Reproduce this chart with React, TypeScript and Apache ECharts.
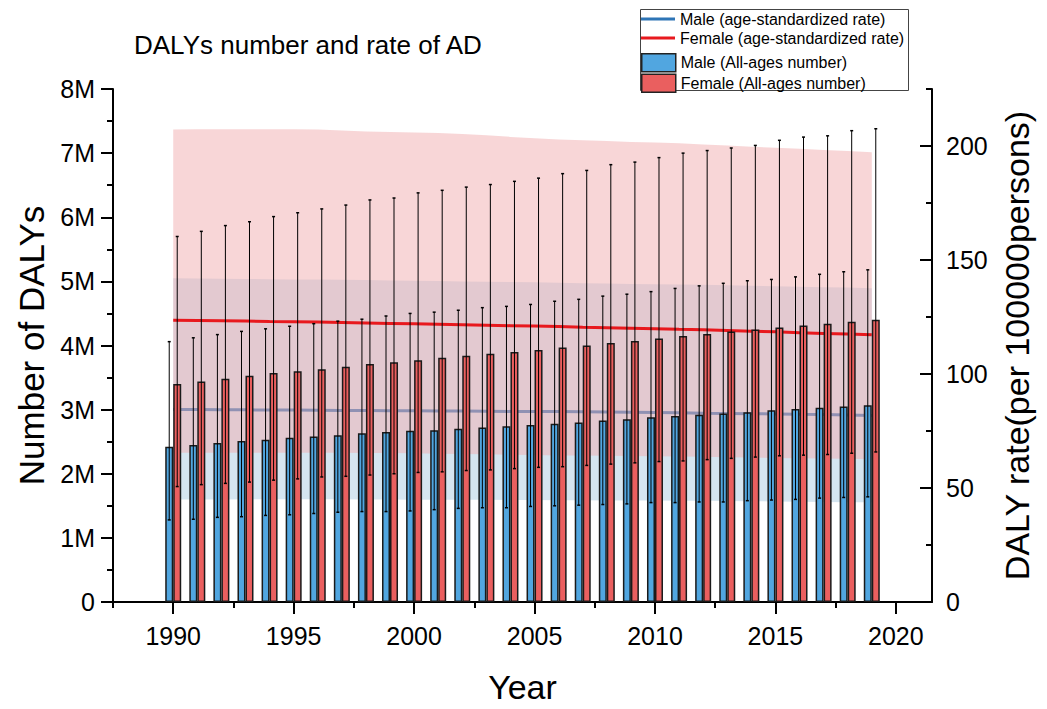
import React, { useEffect, useRef } from "react";
import * as echarts from "echarts";

const years = [1990, 1991, 1992, 1993, 1994, 1995, 1996, 1997, 1998, 1999, 2000, 2001, 2002, 2003, 2004, 2005, 2006, 2007, 2008, 2009, 2010, 2011, 2012, 2013, 2014, 2015, 2016, 2017, 2018, 2019];

// All-ages DALY numbers (millions)
const maleNumber = [2.42, 2.45, 2.48, 2.51, 2.53, 2.56, 2.58, 2.60, 2.63, 2.65, 2.67, 2.68, 2.70, 2.72, 2.74, 2.76, 2.78, 2.80, 2.83, 2.85, 2.88, 2.90, 2.92, 2.94, 2.96, 2.99, 3.01, 3.03, 3.05, 3.07];
const femaleNumber = [3.40, 3.44, 3.48, 3.53, 3.57, 3.60, 3.63, 3.67, 3.71, 3.74, 3.77, 3.81, 3.84, 3.87, 3.90, 3.93, 3.97, 4.00, 4.04, 4.07, 4.11, 4.15, 4.18, 4.22, 4.25, 4.28, 4.31, 4.34, 4.37, 4.40];
const maleUpper = [4.06, 4.12, 4.17, 4.22, 4.26, 4.30, 4.34, 4.38, 4.41, 4.46, 4.50, 4.52, 4.55, 4.59, 4.61, 4.64, 4.69, 4.72, 4.77, 4.80, 4.84, 4.89, 4.93, 4.97, 5.01, 5.03, 5.07, 5.11, 5.15, 5.18];
const maleLower = [1.28, 1.29, 1.32, 1.33, 1.35, 1.36, 1.38, 1.40, 1.41, 1.41, 1.42, 1.44, 1.46, 1.47, 1.47, 1.49, 1.50, 1.51, 1.52, 1.53, 1.55, 1.55, 1.56, 1.56, 1.58, 1.59, 1.60, 1.62, 1.63, 1.64];
const femaleUpper = [5.70, 5.78, 5.87, 5.93, 6.01, 6.07, 6.13, 6.19, 6.27, 6.30, 6.38, 6.42, 6.47, 6.51, 6.56, 6.61, 6.68, 6.73, 6.82, 6.86, 6.93, 7.00, 7.04, 7.08, 7.12, 7.20, 7.25, 7.27, 7.35, 7.38];
const femaleLower = [1.80, 1.83, 1.85, 1.87, 1.90, 1.92, 1.95, 1.96, 1.98, 2.00, 2.02, 2.03, 2.05, 2.06, 2.08, 2.10, 2.11, 2.13, 2.15, 2.17, 2.19, 2.20, 2.22, 2.24, 2.26, 2.28, 2.29, 2.30, 2.32, 2.34];

// Age-standardized DALY rates (per 100000 persons)
const maleRate = [84.4, 84.4, 84.3, 84.3, 84.2, 84.2, 84.1, 84.0, 84.0, 83.9, 83.9, 83.8, 83.8, 83.7, 83.6, 83.5, 83.5, 83.4, 83.3, 83.2, 83.1, 83.0, 82.8, 82.7, 82.6, 82.5, 82.3, 82.2, 82.0, 81.8];
const femaleRate = [123.6, 123.5, 123.4, 123.2, 123.0, 122.9, 122.8, 122.6, 122.4, 122.2, 122.0, 121.8, 121.6, 121.4, 121.2, 121.0, 120.8, 120.5, 120.3, 120.1, 119.9, 119.6, 119.4, 119.1, 118.8, 118.5, 118.1, 117.8, 117.5, 117.2];
const maleRateUpper = [142.0, 141.9, 141.8, 141.7, 141.6, 141.5, 141.4, 141.3, 141.2, 141.0, 140.9, 140.8, 140.6, 140.5, 140.3, 140.2, 140.0, 139.8, 139.7, 139.5, 139.4, 139.3, 139.1, 138.9, 138.7, 138.5, 138.3, 138.1, 137.9, 137.6];
const maleRateLower = [45.0, 45.0, 45.0, 45.1, 45.1, 45.1, 45.1, 45.1, 45.0, 45.0, 44.9, 44.9, 44.8, 44.8, 44.7, 44.7, 44.6, 44.6, 44.5, 44.5, 44.5, 44.4, 44.4, 44.3, 44.2, 44.1, 44.0, 43.9, 43.8, 43.7];
const femaleRateUpper = [207.2, 207.3, 207.4, 207.4, 207.4, 207.4, 207.2, 206.8, 206.4, 206.1, 205.9, 205.7, 205.3, 204.7, 204.0, 203.4, 202.9, 202.5, 202.2, 201.8, 201.5, 201.2, 200.7, 200.2, 199.7, 199.2, 198.8, 198.3, 197.8, 197.3];
const femaleRateLower = [65.5, 65.5, 65.5, 65.5, 65.5, 65.5, 65.5, 65.5, 65.4, 65.3, 65.2, 65.0, 64.9, 64.8, 64.6, 64.5, 64.3, 64.2, 64.1, 64.0, 63.9, 63.8, 63.7, 63.5, 63.4, 63.2, 63.1, 62.9, 62.8, 62.6];

const xMajorTicks = [1990, 1995, 2000, 2005, 2010, 2015, 2020];
const xMinorTicks = [1987.5, 1992.5, 1997.5, 2002.5, 2007.5, 2012.5, 2017.5];
const rightMajorTicks = [0, 50, 100, 150, 200];
const rightMinorTicks = [25, 75, 125, 175, 225];

const FONT = "'Liberation Sans', Arial, Helvetica, sans-serif";
const BAR_W = 8;

function bandSeries(name: string, upper: number[], lower: number[], fill: string, z: number) {
  return {
    name,
    type: "custom",
    yAxisIndex: 1,
    data: [[years[0], lower[0]]],
    encode: { x: 0, y: 1 },
    z,
    silent: true,
    renderItem: (params: any, api: any) => {
      const top = years.map((y, i) => api.coord([y, upper[i]]));
      const bottom = years.map((y, i) => api.coord([y, lower[i]])).reverse();
      return { type: "polygon", shape: { points: top.concat(bottom) }, style: { fill } };
    },
  };
}

export default function App() {
  const ref = useRef<HTMLDivElement>(null);
  useEffect(() => {
    if (!ref.current) return;
    const chart = echarts.init(ref.current, undefined, { renderer: "svg" });
    const pair = (arr: number[]) => years.map((y, i) => [y, arr[i]]);
    const errData: number[][] = [];
    years.forEach((y, i) => {
      errData.push([y, maleLower[i], maleUpper[i], -1]);
      errData.push([y, femaleLower[i], femaleUpper[i], 1]);
    });

    const axisLine = { show: true, lineStyle: { color: "#000", width: 2 } };
    const option: any = {
      animation: false,
      textStyle: { fontFamily: FONT },
      title: {
        text: "DALYs number and rate of AD",
        left: 129,
        top: 27,
        textStyle: { fontFamily: FONT, fontSize: 26, fontWeight: "normal", color: "#000" },
      },
      legend: [
        {
          data: [
            { name: "Male (age-standardized rate)", icon: "rect" },
            { name: "Female (age-standardized rate)", icon: "rect" },
          ],
          orient: "vertical",
          left: 641,
          top: 10,
          padding: 0,
          itemWidth: 34,
          itemHeight: 3,
          itemGap: 1,
          textStyle: { fontFamily: FONT, fontSize: 16, color: "#000", lineHeight: 18 },
        },
        {
          data: [
            { name: "Male (All-ages number)", icon: "rect" },
            { name: "Female (All-ages number)", icon: "rect" },
          ],
          orient: "vertical",
          left: 641,
          top: 53,
          padding: 0,
          itemWidth: 34,
          itemHeight: 18,
          itemGap: 1,
          itemStyle: { borderColor: "#222", borderWidth: 1.5 },
          textStyle: { fontFamily: FONT, fontSize: 16, color: "#000" },
        },
      ],
      graphic: [
        {
          type: "rect",
          left: 638,
          top: 7,
          shape: { width: 268, height: 81 },
          style: { fill: "none", stroke: "#444", lineWidth: 1 },
          z: 0,
        },
      ],
      grid: { left: 113, right: 115, top: 89, bottom: 105, containLabel: false },
      xAxis: [
        {
          type: "value",
          min: 1987.5,
          max: 2021.5,
          position: "bottom",
          axisLine,
          axisTick: { show: true, customValues: xMajorTicks, length: 12, lineStyle: { color: "#000", width: 2 } },
          axisLabel: {
            customValues: xMajorTicks,
            formatter: (v: number) => String(v),
            fontSize: 25,
            color: "#000",
            fontFamily: FONT,
            margin: 21,
          },
          splitLine: { show: false },
          name: "Year",
          nameLocation: "middle",
          nameGap: 68,
          nameTextStyle: { fontSize: 34, color: "#000", fontFamily: FONT },
        },
        {
          type: "value",
          min: 1987.5,
          max: 2021.5,
          position: "bottom",
          axisLine: { show: false },
          axisTick: { show: true, customValues: xMinorTicks, length: 6, lineStyle: { color: "#000", width: 2 } },
          axisLabel: { show: false },
          splitLine: { show: false },
        },
      ],
      yAxis: [
        {
          type: "value",
          min: 0,
          max: 8,
          interval: 1,
          position: "left",
          axisLine,
          axisTick: { show: true, length: 12, lineStyle: { color: "#000", width: 2 } },
          minorTick: { show: true, splitNumber: 2, length: 6, lineStyle: { color: "#000", width: 2 } },
          axisLabel: {
            formatter: (v: number) => (v === 0 ? "0" : v + "M"),
            fontSize: 25,
            color: "#000",
            fontFamily: FONT,
            margin: 18,
          },
          splitLine: { show: false },
          minorSplitLine: { show: false },
          name: "Number of DALYs",
          nameLocation: "middle",
          nameGap: 64,
          nameTextStyle: { fontSize: 35, color: "#000", fontFamily: FONT },
        },
        {
          type: "value",
          min: 0,
          max: 225,
          position: "right",
          axisLine,
          axisTick: { show: true, inside: true, customValues: rightMajorTicks, length: 12, lineStyle: { color: "#000", width: 2 } },
          axisLabel: {
            customValues: rightMajorTicks,
            fontSize: 25,
            color: "#000",
            fontFamily: FONT,
            margin: 14,
          },
          splitLine: { show: false },
          name: "DALY rate(per 100000persons)",
          nameLocation: "middle",
          nameGap: 68,
          nameTextStyle: { fontSize: 34, color: "#000", fontFamily: FONT },
        },
        {
          type: "value",
          min: 0,
          max: 225,
          position: "right",
          axisLine: { show: false },
          axisTick: { show: true, inside: true, customValues: rightMinorTicks, length: 6, lineStyle: { color: "#000", width: 2 } },
          axisLabel: { show: false },
          splitLine: { show: false },
        },
      ],
      series: [
        bandSeries("maleBand", maleRateUpper, maleRateLower, "rgba(171,203,225,0.5)", 1),
        {
          name: "Male (age-standardized rate)",
          type: "line",
          yAxisIndex: 1,
          data: pair(maleRate),
          symbol: "none",
          itemStyle: { color: "#2e75b6" },
          lineStyle: { color: "#2e75b6", width: 3 },
          z: 2,
        },
        bandSeries("femaleBand", femaleRateUpper, femaleRateLower, "rgba(241,173,175,0.5)", 3),
        {
          name: "Female (age-standardized rate)",
          type: "line",
          yAxisIndex: 1,
          data: pair(femaleRate),
          symbol: "none",
          itemStyle: { color: "#e8191e" },
          lineStyle: { color: "#e8191e", width: 3 },
          z: 4,
        },
        {
          name: "Male (All-ages number)",
          type: "bar",
          data: pair(maleNumber),
          barWidth: BAR_W,
          barGap: "0%",
          itemStyle: { color: "#51a6e0", borderColor: "#1a1a1a", borderWidth: 1.5 },
          z: 5,
        },
        {
          name: "Female (All-ages number)",
          type: "bar",
          data: pair(femaleNumber),
          barWidth: BAR_W,
          barGap: "0%",
          itemStyle: { color: "#ea5f5f", borderColor: "#1a1a1a", borderWidth: 1.5 },
          z: 5,
        },
        {
          name: "errorBars",
          type: "custom",
          data: errData,
          encode: { x: 0, y: [1, 2] },
          z: 6,
          silent: true,
          renderItem: (params: any, api: any) => {
            const x = api.value(0);
            const lo = api.value(1);
            const hi = api.value(2);
            const side = api.value(3);
            const pLo = api.coord([x, lo]);
            const pHi = api.coord([x, hi]);
            const cx = pLo[0] + (side * BAR_W) / 2;
            const style = { stroke: "#000", lineWidth: 1 };
            return {
              type: "group",
              children: [
                { type: "line", shape: { x1: cx, y1: pLo[1], x2: cx, y2: pHi[1] }, style },
                { type: "line", shape: { x1: cx - 1.5, y1: pLo[1], x2: cx + 1.5, y2: pLo[1] }, style: { stroke: "#000", lineWidth: 1.5 } },
                { type: "line", shape: { x1: cx - 1.5, y1: pHi[1], x2: cx + 1.5, y2: pHi[1] }, style: { stroke: "#000", lineWidth: 1.5 } },
              ],
            };
          },
        },
      ],
    };
    chart.setOption(option);
    return () => chart.dispose();
  }, []);
  return <div ref={ref} style={{ width: 1047, height: 709, position: "absolute", left: 0, top: 0 }} />;
}
